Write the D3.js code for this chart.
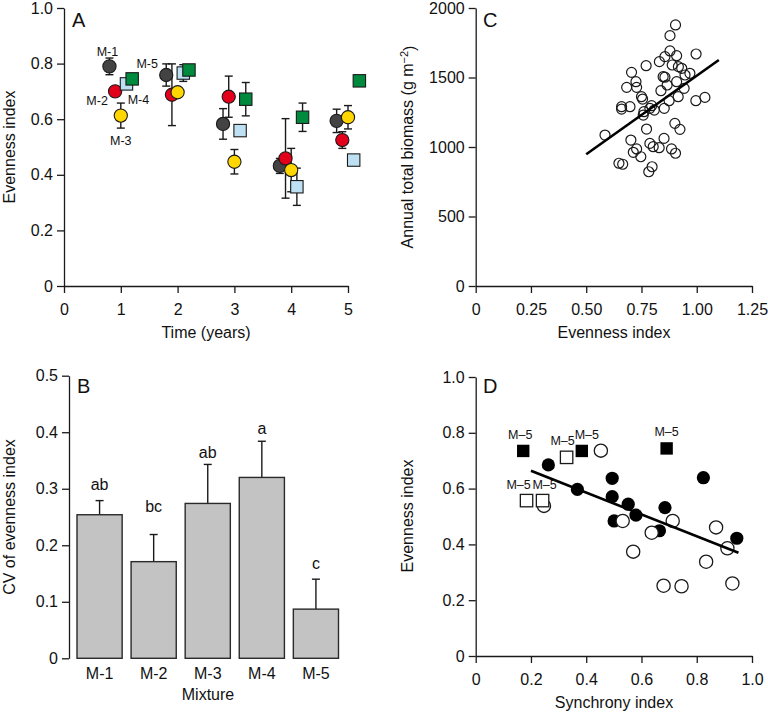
<!DOCTYPE html>
<html><head><meta charset="utf-8">
<script src="https://cdn.jsdelivr.net/npm/d3@7"></script>
<style>
body{margin:0;background:#fff}
text{font-family:"Liberation Sans",Arial,Helvetica,sans-serif;fill:#111}
</style>
</head><body>
<svg id="chart" width="768" height="714"></svg>
<script>
// ---------------- DATA ----------------
// Panel A: evenness index over time for five mixtures
const years = [1, 2, 3, 4, 5];
const mixtures = ["M-1", "M-2", "M-3", "M-4", "M-5"];
const evenM1 = [0.790, 0.759, 0.583, 0.432, 0.594];
const errM1  = [0.030, 0.040, 0.055, 0.027, 0.042];
const evenM2 = [0.700, 0.688, 0.681, 0.459, 0.525];
const errM2  = [0.000, 0.111, 0.074, 0.143, 0.030];
const evenM3 = [0.613, 0.697, 0.447, 0.417, 0.607];
const errM3  = [0.045, 0.000, 0.044, 0.078, 0.042];
const evenM4 = [0.727, 0.766, 0.559, 0.357, 0.453];
const errM4  = [0.015, 0.030, 0.000, 0.067, 0.000];
const evenM5 = [0.745, 0.777, 0.672, 0.607, 0.738];
const errM5  = [0.000, 0.000, 0.060, 0.051, 0.000];

// Panel B: CV of evenness index
const cvMean = [0.254, 0.171, 0.274, 0.320, 0.087];
const cvErr  = [0.025, 0.048, 0.069, 0.064, 0.053];
const cvLetters = ["ab", "bc", "ab", "a", "c"];
const cvLetterAt = [0.298, 0.258, 0.354, 0.397, 0.158];

// Panel C: evenness vs annual total biomass
const evenC = [0.904,0.879,0.879,0.909,0.856,0.997,0.831,0.771,0.889,0.917,0.932,0.705,0.969,0.947,0.848,0.856,
  0.725,0.909,0.683,0.728,0.866,0.943,0.838,0.750,0.755,0.916,1.037,0.996,0.875,0.660,0.660,0.698,0.796,0.788,
  0.853,0.808,0.761,0.758,0.585,0.773,0.901,0.924,0.702,0.852,0.788,0.803,0.728,0.713,0.830,0.886,0.904,0.747,
  0.648,0.665,0.798,0.783];
const biomassC = [1878,1801,1691,1657,1650,1669,1614,1585,1590,1578,1566,1537,1530,1518,1506,1502,
  1470,1470,1429,1429,1446,1422,1405,1362,1345,1362,1357,1333,1333,1290,1273,1290,1297,1278,
  1278,1266,1254,1230,1086,1129,1170,1127,1050,1062,1026,1002,986,962,995,986,955,930,
  883,876,858,822];
const fitCx = [0.50, 1.10];
const fitCy = [948, 1626];

// Panel D: synchrony vs evenness
const filledCircX = [0.263,0.368,0.494,0.494,0.552,0.580,0.501,0.685,0.665,0.824,0.945];
const filledCircY = [0.685,0.597,0.637,0.571,0.544,0.505,0.484,0.532,0.449,0.639,0.422];
const openCircX = [0.453,0.247,0.532,0.637,0.713,0.870,0.911,0.570,0.834,0.680,0.745,0.929];
const openCircY = [0.736,0.538,0.484,0.442,0.484,0.461,0.386,0.374,0.338,0.252,0.250,0.260];
const filledSqX = [0.172,0.384,0.691];
const filledSqY = [0.735,0.735,0.744];
const openSqX = [0.329,0.184,0.242];
const openSqY = [0.712,0.557,0.557];
const sqLabel = "M\u20135";
const fitDx = [0.200, 0.951];
const fitDy = [0.664, 0.370];

// ---------------- DRAWING ----------------
const svg = d3.select("#chart");
const INK = "#1a1a1a";
const TICK_FS = 16, TITLE_FS = 16, LETTER_FS = 20, NOTE_FS = 12.5;

function styleAxis(g) {
  g.attr("font-family", '"Liberation Sans",Arial,sans-serif').attr("font-size", TICK_FS);
  g.select(".domain").attr("stroke", INK).attr("stroke-width", 1.3);
  g.selectAll(".tick line").attr("stroke", INK).attr("stroke-width", 1.3);
  g.selectAll(".tick text").attr("fill", "#111");
}
function leftAxis(x0, scale, ticks, fmt) {
  const g = svg.append("g").attr("transform", `translate(${x0},0)`)
    .call(d3.axisLeft(scale).tickValues(ticks).tickFormat(fmt).tickSize(7).tickPadding(4).tickSizeOuter(0));
  styleAxis(g); return g;
}
function bottomAxis(y0, scale, ticks, fmt) {
  const g = svg.append("g").attr("transform", `translate(0,${y0})`)
    .call(d3.axisBottom(scale).tickValues(ticks).tickFormat(fmt).tickSize(7).tickPadding(11).tickSizeOuter(0));
  styleAxis(g); return g;
}
function yTitle(x, yc, txt) {
  return svg.append("text").attr("transform", `translate(${x},${yc}) rotate(-90)`)
    .attr("text-anchor", "middle").attr("font-size", TITLE_FS).text(txt);
}
function xTitle(xc, y, txt) {
  return svg.append("text").attr("x", xc).attr("y", y).attr("text-anchor", "middle")
    .attr("font-size", TITLE_FS).text(txt);
}
function panelLetter(x, y, t) {
  svg.append("text").attr("x", x).attr("y", y).attr("font-size", LETTER_FS).text(t);
}
const fmtNum = d => d === 0 ? "0" : d3.format(".1f")(d);

// ===== Panel A =====
{
  const x = d3.scaleLinear().domain([0, 5]).range([64, 348]);
  const y = d3.scaleLinear().domain([0, 1]).range([286, 8]);
  leftAxis(64, y, [0, 0.2, 0.4, 0.6, 0.8, 1.0], fmtNum);
  bottomAxis(286, x, [0, 1, 2, 3, 4, 5], d3.format("d"));
  yTitle(15, 147, "Evenness index");
  xTitle(206, 338, "Time (years)");
  panelLetter(72, 27, "A");

  const vals = [evenM1, evenM2, evenM3, evenM4, evenM5];
  const errs = [errM1, errM2, errM3, errM4, errM5];
  const dodge = [-0.2, -0.1, 0, 0.1, 0.2];
  const fills = ["#434343", "#e3001b", "#ffd600", "#bde0f3", "#008a3e"];
  const shapes = ["circle", "circle", "circle", "square", "square"];
  const series = mixtures.map((m, i) => ({
    name: m, fill: fills[i], shape: shapes[i],
    pts: years.map((t, j) => ({ t: t + dodge[i], v: vals[i][j], e: errs[i][j] }))
  }));
  const eg = svg.append("g").attr("stroke", INK).attr("stroke-width", 1.4);
  series.forEach(s => s.pts.filter(p => p.e > 0).forEach(p => {
    const cx = x(p.t), y1 = y(p.v + p.e), y2 = y(p.v - p.e);
    eg.append("line").attr("x1", cx).attr("x2", cx).attr("y1", y1).attr("y2", y2);
    eg.append("line").attr("x1", cx - 4).attr("x2", cx + 4).attr("y1", y1).attr("y2", y1);
    eg.append("line").attr("x1", cx - 4).attr("x2", cx + 4).attr("y1", y2).attr("y2", y2);
  }));
  series.forEach(s => {
    const g = svg.append("g").attr("fill", s.fill).attr("stroke", INK).attr("stroke-width", 1.1);
    if (s.shape === "circle") {
      g.selectAll("circle").data(s.pts).join("circle")
        .attr("cx", p => x(p.t)).attr("cy", p => y(p.v)).attr("r", 6.6);
    } else {
      g.selectAll("rect").data(s.pts).join("rect")
        .attr("x", p => x(p.t) - 6.2).attr("y", p => y(p.v) - 6.2).attr("width", 12.4).attr("height", 12.4);
    }
  });
  // series labels next to year-1 points
  const labOff = [[-2, -10], [-18, 14], [0, 29], [12, 20], [15, -11]];
  series.forEach((s, i) => {
    const p = s.pts[0];
    svg.append("text").attr("x", x(p.t) + labOff[i][0]).attr("y", y(p.v) + labOff[i][1])
      .attr("text-anchor", "middle").attr("font-size", NOTE_FS).text(s.name);
  });
}

// ===== Panel B =====
{
  const x = d3.scaleBand().domain(mixtures).range([77, 338.5]).paddingInner(0.165).paddingOuter(0);
  const y = d3.scaleLinear().domain([0, 0.5]).range([658.3, 375.7]);
  leftAxis(69, y, [0, 0.1, 0.2, 0.3, 0.4, 0.5], fmtNum);
  yTitle(15, 517, "CV of evenness index");
  xTitle(208, 700, "Mixture");
  panelLetter(77, 393, "B");
  const data = mixtures.map((m, i) => ({ m, v: cvMean[i], e: cvErr[i], l: cvLetters[i], ly: cvLetterAt[i] }));
  const eg = svg.append("g").attr("stroke", INK).attr("stroke-width", 1.4);
  data.forEach(d => {
    const cx = x(d.m) + x.bandwidth() / 2;
    eg.append("line").attr("x1", cx).attr("x2", cx).attr("y1", y(d.v)).attr("y2", y(d.v + d.e));
    eg.append("line").attr("x1", cx - 4).attr("x2", cx + 4).attr("y1", y(d.v + d.e)).attr("y2", y(d.v + d.e));
  });
  svg.append("g").selectAll("rect").data(data).join("rect")
    .attr("x", d => x(d.m)).attr("width", x.bandwidth())
    .attr("y", d => y(d.v)).attr("height", d => y(0) - y(d.v))
    .attr("fill", "#c3c3c3").attr("stroke", "#2a2a2a").attr("stroke-width", 1.4);
  svg.append("g").selectAll("text.lt").data(data).join("text")
    .attr("x", d => x(d.m) + x.bandwidth() / 2).attr("y", d => y(d.ly))
    .attr("text-anchor", "middle").attr("font-size", 16).text(d => d.l);
  svg.append("g").selectAll("text.xl").data(data).join("text")
    .attr("x", d => x(d.m) + x.bandwidth() / 2).attr("y", 679)
    .attr("text-anchor", "middle").attr("font-size", TICK_FS).text(d => d.m);
}

// ===== Panel C =====
{
  const x = d3.scaleLinear().domain([0, 1.25]).range([475.7, 752]);
  const y = d3.scaleLinear().domain([0, 2000]).range([286, 8]);
  leftAxis(475.7, y, [0, 500, 1000, 1500, 2000], d3.format("d"));
  bottomAxis(286, x, [0, 0.25, 0.5, 0.75, 1.0, 1.25], d => d === 0 ? "0" : d3.format(".2f")(d));
  const t = svg.append("text").attr("transform", `translate(413,147) rotate(-90)`)
    .attr("text-anchor", "middle").attr("font-size", TITLE_FS);
  t.append("tspan").text("Annual total biomass (g m");
  t.append("tspan").attr("dy", "-0.45em").attr("font-size", 11).text("\u22122");
  t.append("tspan").attr("dy", "0.45em").text(")");
  xTitle(614, 338, "Evenness index");
  panelLetter(483, 27, "C");
  const pts = evenC.map((e, i) => ({ e, b: biomassC[i] }));
  svg.append("g").selectAll("circle").data(pts).join("circle")
    .attr("cx", d => x(d.e)).attr("cy", d => y(d.b)).attr("r", 5)
    .attr("fill", "none").attr("stroke", INK).attr("stroke-width", 1.2);
  svg.append("path").datum(fitCx.map((v, i) => [v, fitCy[i]]))
    .attr("d", d3.line().x(d => x(d[0])).y(d => y(d[1])))
    .attr("stroke", "#000").attr("stroke-width", 2.6).attr("fill", "none");
}

// ===== Panel D =====
{
  const x = d3.scaleLinear().domain([0, 1]).range([475.7, 752]);
  const y = d3.scaleLinear().domain([0, 1]).range([656, 377]);
  leftAxis(475.7, y, [0, 0.2, 0.4, 0.6, 0.8, 1.0], fmtNum);
  bottomAxis(656, x, [0, 0.2, 0.4, 0.6, 0.8, 1.0], fmtNum);
  yTitle(413, 516, "Evenness index");
  xTitle(614, 708, "Synchrony index");
  panelLetter(483, 393, "D");
  const fc = filledCircX.map((v, i) => ({ x: v, y: filledCircY[i] }));
  const oc = openCircX.map((v, i) => ({ x: v, y: openCircY[i] }));
  const fs = filledSqX.map((v, i) => ({ x: v, y: filledSqY[i] }));
  const os = openSqX.map((v, i) => ({ x: v, y: openSqY[i] }));
  svg.append("g").selectAll("circle").data(fc).join("circle")
    .attr("cx", d => x(d.x)).attr("cy", d => y(d.y)).attr("r", 6.6).attr("fill", "#000");
  svg.append("g").selectAll("circle").data(oc).join("circle")
    .attr("cx", d => x(d.x)).attr("cy", d => y(d.y)).attr("r", 6.6)
    .attr("fill", "#fff").attr("stroke", INK).attr("stroke-width", 1.3);
  svg.append("path").datum(fitDx.map((v, i) => [v, fitDy[i]]))
    .attr("d", d3.line().x(d => x(d[0])).y(d => y(d[1])))
    .attr("stroke", "#000").attr("stroke-width", 2.6).attr("fill", "none");
  svg.append("g").selectAll("rect").data(fs).join("rect")
    .attr("x", d => x(d.x) - 6.2).attr("y", d => y(d.y) - 6.2).attr("width", 12.4).attr("height", 12.4)
    .attr("fill", "#000");
  svg.append("g").selectAll("rect").data(os).join("rect")
    .attr("x", d => x(d.x) - 6.2).attr("y", d => y(d.y) - 6.2).attr("width", 12.4).attr("height", 12.4)
    .attr("fill", "#fff").attr("stroke", INK).attr("stroke-width", 1.3);
  const fsNudge = [-3, 5, 0], osNudge = [-4, -8, 2];
  fs.forEach((d, i) => svg.append("text").attr("x", x(d.x) + fsNudge[i]).attr("y", y(d.y) - 12)
    .attr("text-anchor", "middle").attr("font-size", NOTE_FS).text(sqLabel));
  os.forEach((d, i) => svg.append("text").attr("x", x(d.x) + osNudge[i]).attr("y", y(d.y) - 12)
    .attr("text-anchor", "middle").attr("font-size", NOTE_FS).text(sqLabel));
}
</script>
</body></html>
